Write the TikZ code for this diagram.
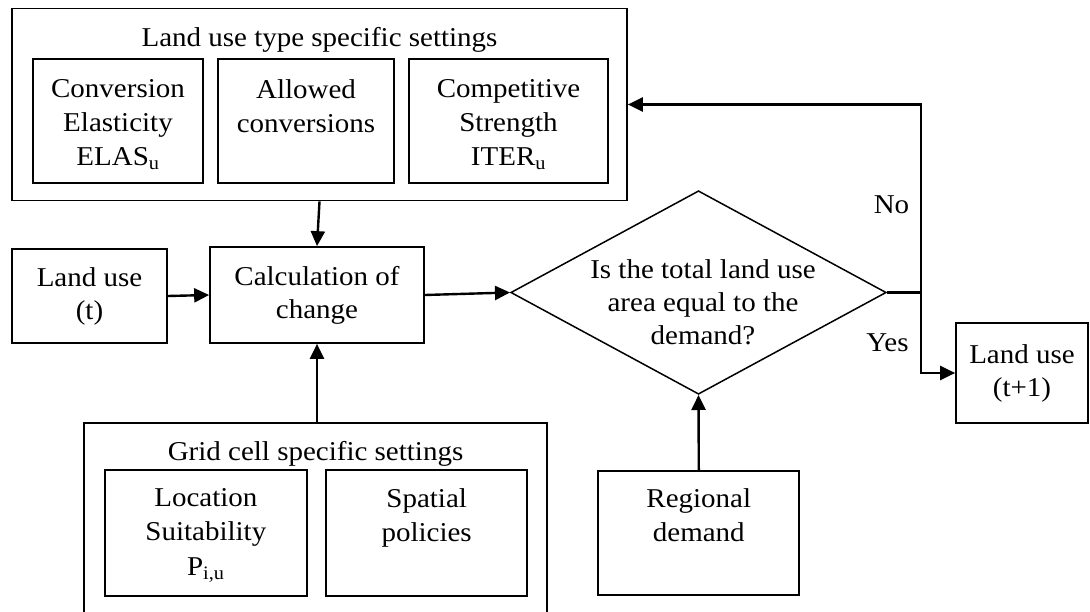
\documentclass[tikz,border=0pt]{standalone}
\usepackage{fontspec}
\setmainfont{Liberation Serif}[FakeStretch=1.066]
\usetikzlibrary{arrows.meta,shapes.geometric}

\begin{document}
\begin{tikzpicture}[
  x=1pt, y=-1pt,
  txt/.style={font=\fontsize{27.2}{34.2}\selectfont, inner sep=0pt, align=center},
  box/.style={draw, line width=1.7pt, rectangle, inner sep=0pt,
              font=\fontsize{27.2}{33}\selectfont, align=center},
  conn/.style={line width=2.4pt, -{Triangle[length=15pt,width=14pt]}},
  link/.style={line width=2.4pt},
]
\useasboundingbox (0,0) rectangle (1090,612);
\clip (0,0) rectangle (1090,612);

% land use type specific settings
\node[box, minimum width=615pt, minimum height=192pt] (T) at (319.5,104.5) {};
\node[txt, anchor=base] (Ttitle) at (319.5,46.3) {Land use type specific settings};
\node[box, minimum width=170pt, minimum height=124pt] (b1) at (118,121) {};
\node[box, minimum width=176pt, minimum height=124pt] (b2) at (306,121) {};
\node[box, minimum width=199pt, minimum height=124pt] (b3) at (508.5,121) {};
\node[txt, anchor=north] (b1t) at (118,79.3) {Conversion\\Elasticity\\ELAS\textsubscript{u}};
\node[txt, anchor=north] (b2t) at (306,79.3) {Allowed\\conversions};
\node[txt, anchor=north] (b3t) at (508.5,79.3) {Competitive\\Strength\\ITER\textsubscript{u}};

% main flow
\node[box, minimum width=155pt, minimum height=94pt] (lu) at (89.5,296) {Land use\\(t)};
\node[box, minimum width=214pt, minimum height=96pt] (calc) at (317,295) {Calculation of\\change};
\node[draw, diamond, line width=1.5pt, inner sep=0pt,
      minimum width=375.5pt, minimum height=203.5pt] (dec) at (698.5,292.5) {};
\node[txt, anchor=north, font=\fontsize{27.2}{33.3}\selectfont] (dect) at (703,259.1)
  {Is the total land use\\area equal to the\\demand?};
\node[box, minimum width=132pt, minimum height=100pt] (lu2) at (1022,373) {Land use\\(t+1)};

% grid cell specific settings (runs past the lower edge)
\node[box, minimum width=463pt, minimum height=217.3pt] (G) at (315.5,531.35) {};
\node[txt, anchor=base] (Gtitle) at (315.5,460.5) {Grid cell specific settings};
\node[box, minimum width=201.7pt, minimum height=125.7pt] (loc) at (205.85,532.85) {};
\node[box, minimum width=201.3pt, minimum height=125.7pt] (sp) at (426.65,532.85) {};
\node[txt, anchor=north] (loct) at (205.85,488.5) {Location\\Suitability\\P\textsubscript{i,u}};
\node[txt, anchor=north] (spt) at (426.65,488.5) {Spatial\\policies};

% regional demand
\node[box, minimum width=201pt, minimum height=124.3pt] (reg) at (698.8,532.85) {};
\node[txt, anchor=north] (regt) at (698.8,488.5) {Regional\\demand};

% decision labels
\node[txt, anchor=base] (no) at (891.5,213.3) {No};
\node[txt, anchor=base] (yes) at (887.5,352) {Yes};

% connectors
\coordinate (j) at (920.7,292.5);
\draw[conn] (T.south) -- (calc.north);
\draw[conn] (lu.east) -- (calc.west);
\draw[conn] (calc.east) -- (dec.west);
\draw[conn] (G.north -| calc.south) -- (calc.south);
\draw[conn] (reg.north) -- (dec.south);
\draw[link] (dec.east) -- (j);
\draw[conn] (j) |- (T.east);
\draw[conn] (j) |- (lu2.west);
\end{tikzpicture}
\end{document}
